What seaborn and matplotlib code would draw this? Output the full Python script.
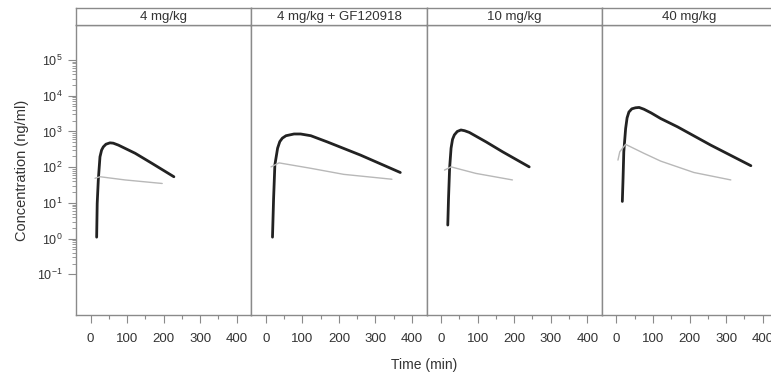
import numpy as np
import pandas as pd
import matplotlib
matplotlib.use("Agg")
import matplotlib.pyplot as plt
import matplotlib.ticker as mticker
import seaborn as sns

## data
panels = ['4 mg/kg', '4 mg/kg + GF120918', '10 mg/kg', '40 mg/kg']

# dark (thick) curve, one list per panel
dark_time = [
    [16.5, 18, 21, 25.6, 30, 34.7, 42, 53, 62, 76, 122, 168, 228],
    [18, 21, 24.5, 32, 38, 45, 55, 77, 95, 123, 168, 259, 368],
    [18, 20, 23, 27, 31, 36, 44, 54, 64, 77, 123, 168, 241],
    [16, 18, 20, 25, 29, 34, 42, 52, 62, 75, 95, 121, 167, 258, 368],
]
dark_conc = [
    [1.1, 9.7, 44, 195, 300, 370, 440, 480, 470, 415, 245, 128, 54],
    [1.1, 13, 115, 340, 520, 650, 760, 850, 850, 760, 510, 218, 71],
    [2.4, 13, 93, 340, 600, 800, 1000, 1100, 1050, 940, 510, 270, 102],
    [11, 49, 270, 1200, 2400, 3500, 4300, 4600, 4700, 4200, 3300, 2300, 1350, 415, 110],
]

# light (thin) curve, one list per panel
light_time = [
    [12, 26, 94, 196],
    [14, 36, 123, 213, 345],
    [9, 27, 95, 195],
    [4, 9, 25, 75, 121, 212, 313],
]
light_conc = [
    [49, 54, 44, 35],
    [102, 132, 93, 63, 46],
    [83, 102, 67, 44],
    [158, 270, 435, 245, 148, 71, 44],
]

# long-form table for seaborn
rows = []
for i, p in enumerate(panels):
    for t, c in zip(dark_time[i], dark_conc[i]):
        rows.append((p, 'dark', t, c))
    for t, c in zip(light_time[i], light_conc[i]):
        rows.append((p, 'light', t, c))
df = pd.DataFrame(rows, columns=['panel', 'series', 'time', 'conc'])

sns.set_style('white')
plt.rcParams['font.family'] = ['Liberation Sans', 'DejaVu Sans']
plt.rcParams['mathtext.default'] = 'regular'
plt.rcParams['axes.unicode_minus'] = False

edge = '#8a8a8a'
txt = '#333333'

fig, axs = plt.subplots(ncols=4, nrows=1, sharey=True, figsize=(7.71, 3.76), dpi=100)
fig.subplots_adjust(left=0.0986, right=1.008, bottom=0.162, top=0.9335, wspace=0)

for ax, p in zip(axs, panels):
    sub = df[df['panel'] == p]
    sns.lineplot(data=sub, x='time', y='conc', hue='series', size='series',
                 palette={'dark': '#222222', 'light': '#b8b8b8'},
                 sizes={'dark': 2.0, 'light': 1.0},
                 estimator=None, sort=False, legend=False, ax=ax)
    ax.set_yscale('log')
    ax.set_xlim(-40, 440)
    ax.set(xlabel='', ylabel='')

    for s in ax.spines.values():
        s.set_color(edge)
        s.set_linewidth(1.0)

    ax.set_xticks([0, 100, 200, 300, 400])
    ax.xaxis.set_minor_locator(mticker.MultipleLocator(50))
    ax.tick_params(axis='x', which='major', direction='out', length=6, width=0.8,
                   color=edge, labelsize=9.5, labelcolor=txt, pad=7, bottom=True)
    ax.tick_params(axis='x', which='minor', direction='out', length=3, width=0.8,
                   color=edge, bottom=True)

    ## strip on top of each panel
    strip = ax.inset_axes([0, 1, 1, 17 / 290])
    strip.set_xticks([])
    strip.set_yticks([])
    strip.set_facecolor('white')
    for s in strip.spines.values():
        s.set_color(edge)
        s.set_linewidth(1.0)
    strip.text(0.5, 0.45, p, ha='center', va='center', fontsize=9.5, color=txt,
               transform=strip.transAxes)

## shared log y axis, set after all scales are fixed
ax0 = axs[0]
ax0.set_ylim(10 ** -2.14, 10 ** 5.98)
decades = [10.0 ** k for k in range(-1, 6)]
ax0.set_yticks(decades)
ax0.yaxis.set_major_formatter(mticker.LogFormatterSciNotation())
minor = [m * 10.0 ** k for k in range(-1, 5) for m in range(2, 10)]
ax0.yaxis.set_minor_locator(mticker.FixedLocator(minor))
ax0.yaxis.set_minor_formatter(mticker.NullFormatter())
ax0.tick_params(axis='y', which='major', direction='out', length=6, width=0.8,
                color=edge, labelsize=9, labelcolor=txt, left=True)
ax0.tick_params(axis='y', which='minor', direction='out', length=3, width=0.6,
                color=edge, left=True)
ax0.set_ylabel('Concentration (ng/ml)', fontsize=10.5, color=txt, labelpad=6)
for ax in axs[1:]:
    ax.tick_params(axis='y', which='both', left=False, labelleft=False)

fig.text(0.55, 0.029, 'Time (min)', ha='center', va='center', fontsize=10, color=txt)

plt.savefig('out.png', dpi=100)
